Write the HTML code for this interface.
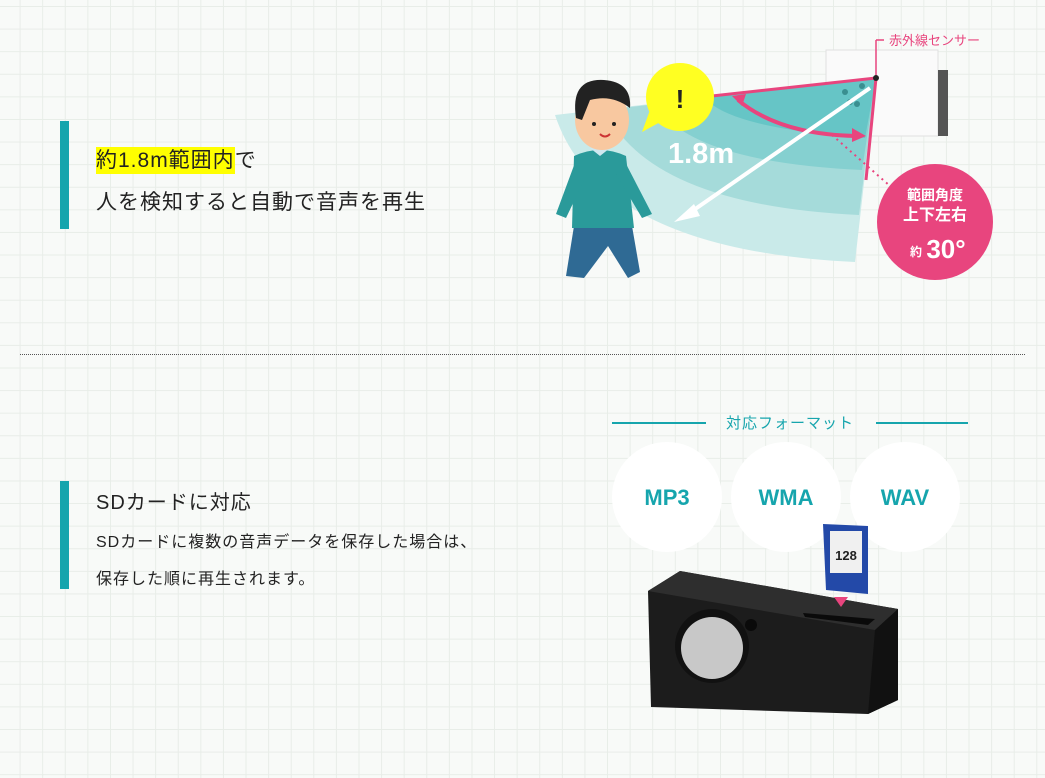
<!DOCTYPE html>
<html><head><meta charset="utf-8"><style>
body{margin:0;width:1045px;height:778px;overflow:hidden;background-color:#f8faf8;
background-image:linear-gradient(#e8ede8 1px,transparent 1px),linear-gradient(90deg,#e8ede8 1px,transparent 1px);background-size:22.6px 22.6px;background-position:-3px 6px;
font-family:"Liberation Sans","Noto Sans CJK JP",sans-serif;position:relative;color:#222}
.bar{position:absolute;left:60px;width:9px;background:#16a5ad}
.t{position:absolute;left:96px;white-space:nowrap}
</style></head><body>
<div class="bar" style="top:121px;height:108px"></div>
<div class="t" style="top:144px;font-size:21px;letter-spacing:1px"><span style="background:#ffff00;padding:2px 0">約1.8m範囲内</span>で</div>
<div class="t" style="top:186px;font-size:21px;letter-spacing:1px">人を検知すると自動で音声を再生</div>
<div style="position:absolute;left:20px;top:354px;width:1005px;border-top:1px dotted #555"></div>
<div class="bar" style="top:481px;height:108px"></div>
<div class="t" style="top:486px;font-size:20px;letter-spacing:1px">SDカードに対応</div>
<div class="t" style="top:528px;font-size:16px;letter-spacing:1px">SDカードに複数の音声データを保存した場合は、</div>
<div class="t" style="top:565px;font-size:16px;letter-spacing:1px">保存した順に再生されます。</div>
<svg width="1045" height="778" style="position:absolute;left:0;top:0">
<!-- sensor box -->
<rect x="826" y="50" width="112" height="86" fill="#fafafa" stroke="#e0e0e0"/>
<rect x="938" y="70" width="10" height="66" fill="#555"/>
<!-- fan -->
<path d="M876,78 L555,115 Q600,250 855,262 Z" fill="#c9eae9"/>
<path d="M876,78 L605,110 Q650,205 859,215 Z" fill="#a5dbda"/>
<path d="M876,78 L655,104 Q690,162 862,170 Z" fill="#85d0d0"/>
<path d="M876,78 L705,98 Q730,128 865,138 Z" fill="#66c5c6"/>
<g fill="#3a8f90"><circle cx="845" cy="92" r="3"/><circle cx="857" cy="104" r="3"/><circle cx="850" cy="102" r="3"/><circle cx="862" cy="86" r="3"/></g>
<line x1="876" y1="78" x2="712" y2="96" stroke="#e8457e" stroke-width="3"/>
<line x1="876" y1="78" x2="866" y2="180" stroke="#e8457e" stroke-width="3"/>
<line x1="876" y1="40" x2="876" y2="78" stroke="#e8457e" stroke-width="1.5"/>
<line x1="876" y1="40" x2="884" y2="40" stroke="#e8457e" stroke-width="1.5"/>
<circle cx="876" cy="78" r="3" fill="#222"/>
<path d="M738,100 Q780,135 858,136" fill="none" stroke="#e8457e" stroke-width="4"/>
<path d="M732,96 l14,-2 l-4,12 z M866,136 l-14,-8 l0,14 z" fill="#e8457e"/>
<line x1="870" y1="88" x2="688" y2="214" stroke="#fff" stroke-width="4"/>
<path d="M674,222 l20,-18 l6,12 z" fill="#fff"/>
<text x="668" y="163" font-size="29" font-weight="bold" fill="#fff">1.8m</text>
<line x1="832" y1="135" x2="890" y2="186" stroke="#e8457e" stroke-width="2" stroke-dasharray="2,4"/>
<circle cx="680" cy="97" r="34" fill="#ffff22"/><path d="M650,110 l-8,22 l22,-12 z" fill="#ffff22"/>
<text x="680" y="108" font-size="26" font-weight="bold" text-anchor="middle" fill="#222">!</text>
<circle cx="935" cy="222" r="58" fill="#e8457e"/>
<g fill="#fff" text-anchor="middle" font-weight="bold"><text x="935" y="200" font-size="14">範囲角度</text><text x="935" y="220" font-size="16">上下左右</text><text x="916" y="256" font-size="12">約</text><text x="946" y="258" font-size="26">30°</text></g>
<text x="889" y="45" font-size="13" fill="#e8457e">赤外線センサー</text>
<!-- person -->
<path d="M574,226 L632,226 L640,272 L628,278 L608,246 L584,278 L566,276 Z" fill="#2f6a94"/>
<path d="M574,156 Q600,144 626,156 L634,228 L572,228 Z" fill="#2a9a9a"/>
<path d="M576,160 L556,214 L566,218 L588,172 Z M624,160 L652,214 L642,218 L616,174Z" fill="#2a9a9a"/>
<path d="M590,148 l10,8 l10,-8 z" fill="#cfe8f0"/>
<ellipse cx="602" cy="120" rx="27" ry="30" fill="#f8c8a0"/>
<path d="M576,118 Q570,78 604,80 Q632,82 630,108 Q612,94 590,100 L582,120 Z" fill="#222"/>
<circle cx="594" cy="124" r="2" fill="#222"/><circle cx="614" cy="124" r="2" fill="#222"/>
<path d="M600,134 q5,5 10,0" stroke="#c33" stroke-width="2" fill="none"/>
<!-- formats -->
<line x1="612" y1="423" x2="706" y2="423" stroke="#16a5ad" stroke-width="2"/>
<line x1="876" y1="423" x2="968" y2="423" stroke="#16a5ad" stroke-width="2"/>
<text x="790" y="428" font-size="15" fill="#16a5ad" text-anchor="middle" letter-spacing="1">対応フォーマット</text>
<g fill="#fff"><circle cx="667" cy="497" r="55"/><circle cx="786" cy="497" r="55"/><circle cx="905" cy="497" r="55"/></g>
<g fill="#16a5ad" font-size="22" font-weight="bold" text-anchor="middle"><text x="667" y="505">MP3</text><text x="786" y="505">WMA</text><text x="905" y="505">WAV</text></g>
<!-- speaker -->
<path d="M648,591 L680,571 L898,609 L898,700 L868,714 L651,707 Z" fill="#1c1c1c"/>
<path d="M648,591 L680,571 L898,609 L875,630 Z" fill="#2e2e2e"/>
<path d="M875,630 L898,609 L898,700 L868,714 Z" fill="#111"/>
<circle cx="712" cy="646" r="37" fill="#111"/><circle cx="712" cy="648" r="31" fill="#c8c8c8"/>
<circle cx="751" cy="625" r="6" fill="#0a0a0a"/>
<path d="M803,613 L875,619 L868,625 L805,617Z" fill="#0a0a0a"/>
<path d="M823,524 L868,526 L868,594 L826,590 Z" fill="#2349a8"/>
<rect x="830" y="531" width="32" height="42" fill="#f0f0f0"/>
<text x="846" y="560" font-size="13" font-weight="bold" text-anchor="middle" fill="#222">128</text>
<path d="M834,597 l14,0 l-7,10z" fill="#e8457e"/>
</svg>
</body></html>
